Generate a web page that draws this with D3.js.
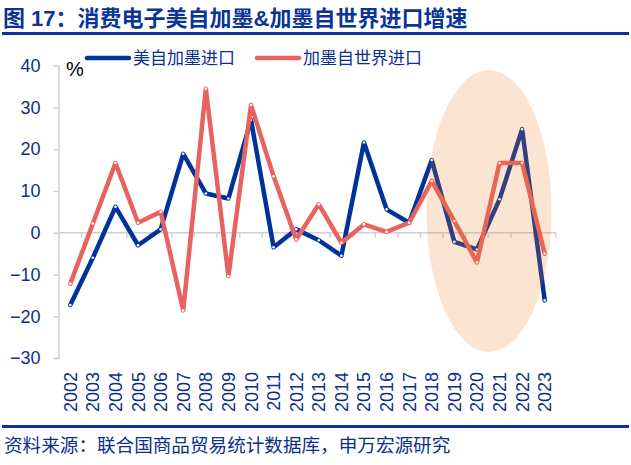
<!DOCTYPE html>
<html>
<head>
<meta charset="utf-8">
<script src="https://cdn.jsdelivr.net/npm/d3@7"></script>
<style>
  body { margin: 0; background: #fff; }
  svg { display: block; font-family: "Liberation Sans", "Noto Sans CJK SC", sans-serif; }
</style>
</head>
<body>
<svg width="631" height="465"></svg>
<script>
var years = ["2002","2003","2004","2005","2006","2007","2008","2009","2010","2011","2012",
             "2013","2014","2015","2016","2017","2018","2019","2020","2021","2022","2023"];
// 美自加墨进口
var usImports = [-17.3, -6, 6.2, -3.0, 0.8, 18.9, 9.4, 8.2, 27.0, -3.5, 0.8,
                 -1.8, -5.5, 21.6, 5.6, 2.4, 17.4, -2.2, -4.0, 8.0, 24.8, -16.2];
// 加墨自世界进口
var worldImports = [-12.2, 2.2, 16.7, 2.4, 5.0, -18.6, 34.5, -10.4, 30.6, 13.5, -1.6,
                    6.8, -2.4, 2.0, 0.2, 2.4, 12.4, 2.8, -7.1, 16.7, 16.7, -5.0];
var yTicks = [40, 30, 20, 10, 0, -10, -20, -30];
var seriesNames = ["美自加墨进口", "加墨自世界进口"];

var blue = "#003399", red = "#e8625f", textBlue = "#0b2f8a";

var svg = d3.select("svg");

// title
svg.append("text")
    .attr("x", 3).attr("y", 26)
    .attr("font-size", 22).attr("font-weight", "bold")
    .attr("fill", "#0a3496")
    .text("图 17：消费电子美自加墨&加墨自世界进口增速");
svg.append("rect").attr("x", 2).attr("y", 32).attr("width", 627).attr("height", 3).attr("fill", "#0a3496");

// source
svg.append("rect").attr("x", 2).attr("y", 425).attr("width", 627).attr("height", 3).attr("fill", "#0a3496");
svg.append("text")
    .attr("x", 4).attr("y", 452)
    .attr("font-size", 18.6).attr("fill", textBlue)
    .text("资料来源：联合国商品贸易统计数据库，申万宏源研究");

var x = d3.scaleBand().domain(years).range([59, 556]);
var y = d3.scaleLinear().domain([-30, 40]).range([358, 65.7]);

// y axis
var yAxis = svg.append("g").attr("transform", "translate(58.5,0)")
    .call(d3.axisLeft(y).tickValues(yTicks).tickSize(5).tickPadding(13));
yAxis.select(".domain").attr("stroke", "#d0d0d0").attr("stroke-width", 1.5);
yAxis.selectAll(".tick line").attr("stroke", "#d0d0d0").attr("stroke-width", 1.5);
yAxis.selectAll(".tick text").attr("font-size", 18).attr("fill", textBlue)
    .attr("font-family", "Liberation Sans, sans-serif");

// zero line with category ticks
var zero = svg.append("g").attr("transform", "translate(0," + y(0) + ")");
zero.append("line").attr("x1", 59).attr("x2", 556).attr("stroke", "#d0d0d0").attr("stroke-width", 1.5);
zero.selectAll("line.t").data(years.slice(1).concat(["end"])).enter().append("line")
    .attr("class", "t")
    .attr("x1", function(d, i) { return 59 + (i + 1) * x.step(); })
    .attr("x2", function(d, i) { return 59 + (i + 1) * x.step(); })
    .attr("y1", 0).attr("y2", 5)
    .attr("stroke", "#d0d0d0").attr("stroke-width", 1.5);

// x labels
svg.selectAll("text.year").data(years).enter().append("text")
    .attr("class", "year")
    .attr("transform", function(d) { return "translate(" + (x(d) + x.bandwidth() / 2) + ",372) rotate(-90)"; })
    .attr("text-anchor", "end").attr("dy", "0.36em")
    .attr("font-size", 18).attr("fill", textBlue)
    .text(function(d) { return d; });

svg.append("text").attr("x", 66).attr("y", 76).attr("font-size", 20).attr("fill", "#000").text("%");

// lines
var line = d3.line()
    .x(function(d, i) { return x(years[i]) + x.bandwidth() / 2; })
    .y(function(d) { return y(d); });

function drawSeries(vals, color) {
    svg.append("path").datum(vals)
        .attr("d", line)
        .attr("fill", "none").attr("stroke", color)
        .attr("stroke-width", 4.5).attr("stroke-linejoin", "round").attr("stroke-linecap", "round");
    svg.selectAll(null).data(vals).enter().append("circle")
        .attr("cx", function(d, i) { return x(years[i]) + x.bandwidth() / 2; })
        .attr("cy", function(d) { return y(d); })
        .attr("r", 1.3).attr("fill", "#fff");
}
drawSeries(usImports, blue);
drawSeries(worldImports, red);

// highlight ellipse
svg.append("ellipse")
    .attr("cx", 489).attr("cy", 211).attr("rx", 62.5).attr("ry", 141)
    .attr("fill", "#f07820").attr("fill-opacity", 0.2);

// legend
var legend = [{ name: seriesNames[0], color: blue, x: 87 }, { name: seriesNames[1], color: red, x: 257 }];
legend.forEach(function(l) {
    svg.append("line").attr("x1", l.x).attr("x2", l.x + 42).attr("y1", 58).attr("y2", 58)
        .attr("stroke", l.color).attr("stroke-width", 4.5).attr("stroke-linecap", "round");
    svg.append("text").attr("x", l.x + 46).attr("y", 64).attr("font-size", 17).attr("fill", textBlue).text(l.name);
});
</script>
</body>
</html>
